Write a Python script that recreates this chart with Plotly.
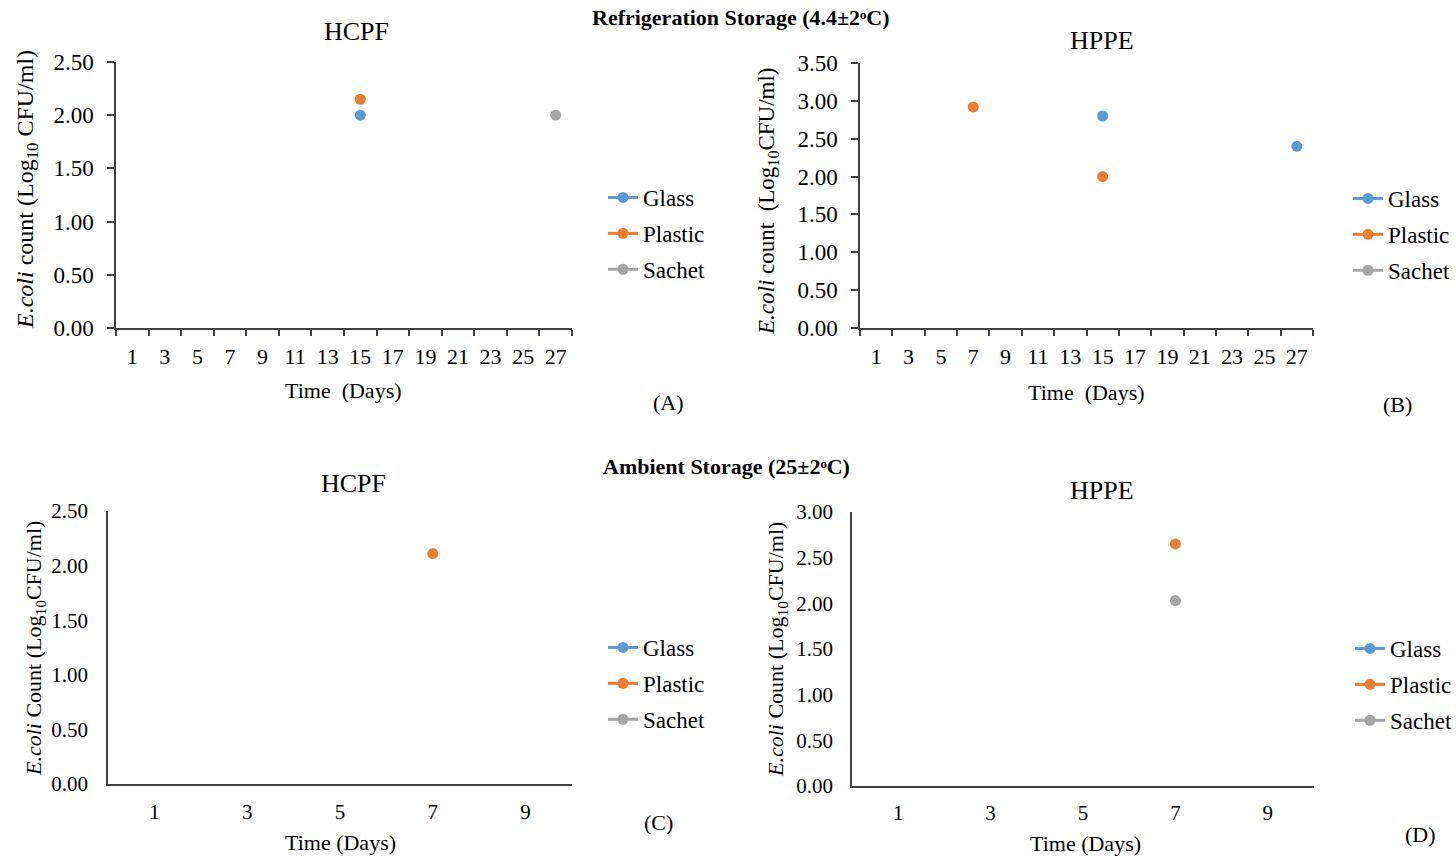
import plotly.graph_objects as go

W, H = 1456, 858

def X(px):
    return px / W

def Y(py):
    return 1 - py / H

# ---------------- data ----------------
series_names = ["Glass", "Plastic", "Sachet"]
colors = ["#5B9BD5", "#ED7D31", "#A5A5A5"]

days_refrig = ["1", "3", "5", "7", "9", "11", "13", "15", "17", "19", "21", "23", "25", "27"]
days_ambient = ["1", "3", "5", "7", "9"]

# Panel A: Refrigeration, HCPF
a_glass = [None, None, None, None, None, None, None, 2.00, None, None, None, None, None, None]
a_plastic = [None, None, None, None, None, None, None, 2.15, None, None, None, None, None, None]
a_sachet = [None, None, None, None, None, None, None, None, None, None, None, None, None, 2.00]

# Panel B: Refrigeration, HPPE
b_glass = [None, None, None, None, None, None, None, 2.80, None, None, None, None, None, 2.40]
b_plastic = [None, None, None, 2.92, None, None, None, 2.00, None, None, None, None, None, None]
b_sachet = [None, None, None, None, None, None, None, None, None, None, None, None, None, None]

# Panel C: Ambient, HCPF
c_glass = [None, None, None, None, None]
c_plastic = [None, None, None, 2.11, None]
c_sachet = [None, None, None, None, None]

# Panel D: Ambient, HPPE
d_glass = [None, None, None, None, None]
d_plastic = [None, None, None, 2.65, None]
d_sachet = [None, None, None, 2.03, None]

FONT = "Liberation Serif"
LINE = "#404040"

fig = go.Figure()

panels = [
    dict(x=days_refrig, ys=[a_glass, a_plastic, a_sachet], xa="x", ya="y", leg="legend"),
    dict(x=days_refrig, ys=[b_glass, b_plastic, b_sachet], xa="x2", ya="y2", leg="legend2"),
    dict(x=days_ambient, ys=[c_glass, c_plastic, c_sachet], xa="x3", ya="y3", leg="legend3"),
    dict(x=days_ambient, ys=[d_glass, d_plastic, d_sachet], xa="x4", ya="y4", leg="legend4"),
]

for p in panels:
    for name, col, ys in zip(series_names, colors, p["ys"]):
        fig.add_trace(go.Scatter(
            x=p["x"], y=ys, name=name, mode="lines+markers",
            line=dict(color=col, width=3), marker=dict(color=col, size=11),
            connectgaps=False, xaxis=p["xa"], yaxis=p["ya"],
            legend=p["leg"], legendgroup=p["leg"] + name,
        ))

# ---------------- axes ----------------
def xaxis(domain, cats, ticks, size, standoff):
    d = dict(domain=domain, type="category", categoryorder="array", categoryarray=cats,
             range=[-0.5, len(cats) - 0.5], showline=True, linecolor=LINE, linewidth=1.5,
             showgrid=False, zeroline=False, tickfont=dict(family=FONT, size=size, color="#000"),
             fixedrange=True, automargin=False, ticklabelstandoff=standoff)
    if ticks:
        d.update(ticks="outside", tickson="boundaries", ticklen=6, tickcolor=LINE, tickwidth=1.5)
    else:
        d.update(ticks="")
    return d

def yaxis(domain, rng, anchor, ticks, size, standoff):
    d = dict(domain=domain, range=rng, dtick=0.5, tick0=0, tickformat=".2f", showline=True,
             linecolor=LINE, linewidth=1.5, showgrid=False, zeroline=False, anchor=anchor,
             tickfont=dict(family=FONT, size=size, color="#000"), fixedrange=True,
             automargin=False, ticklabelstandoff=standoff)
    if ticks:
        d.update(ticks="outside", ticklen=7, tickcolor=LINE, tickwidth=1.5)
    else:
        d.update(ticks="")
    return d

fig.update_layout(
    xaxis=dict(xaxis([X(116), X(572)], days_refrig, True, 22, 8), anchor="y"),
    yaxis=yaxis([Y(328), Y(62)], [0, 2.5], "x", True, 23, 9),
    xaxis2=dict(xaxis([X(860), X(1313)], days_refrig, True, 22, 8), anchor="y2"),
    yaxis2=yaxis([Y(328), Y(63)], [0, 3.5], "x2", True, 23, 9),
    xaxis3=dict(xaxis([X(108), X(572)], days_ambient, False, 21, 8), anchor="y3"),
    yaxis3=yaxis([Y(784), Y(511)], [0, 2.5], "x3", False, 21, 14),
    xaxis4=dict(xaxis([X(852), X(1314)], days_ambient, False, 21, 7), anchor="y4"),
    yaxis4=yaxis([Y(786), Y(512)], [0, 3.0], "x4", False, 21, 13),
)

# ---------------- legends ----------------
def legend(xp, yp):
    return dict(x=X(xp), y=Y(yp), xanchor="left", yanchor="top", bgcolor="rgba(0,0,0,0)",
                font=dict(family=FONT, size=23, color="#000"), tracegroupgap=3,
                traceorder="grouped", itemwidth=30)

fig.update_layout(
    legend=legend(603, 176),
    legend2=legend(1348, 177),
    legend3=legend(603, 626),
    legend4=legend(1350, 627),
)

# ---------------- text ----------------
ann = []

def text(t, xp, yp, size, bold=False, angle=0):
    ann.append(dict(text=("<b>%s</b>" % t) if bold else t, x=X(xp), y=Y(yp), xref="paper",
                    yref="paper", showarrow=False, xanchor="center", yanchor="middle",
                    textangle=angle, font=dict(family=FONT, size=size, color="#000")))

text("Refrigeration Storage (4.4±2ᵒC)", 741, 17, 22, bold=True)
text("Ambient Storage (25±2ᵒC)", 726, 466, 22, bold=True)
text("HCPF", 356, 32, 26)
text("HPPE", 1102, 41, 26)
text("HCPF", 353, 483, 26)
text("HPPE", 1102, 490, 26)
text("Time  (Days)", 343, 390, 22)
text("Time  (Days)", 1086, 392, 22)
text("Time (Days)", 340, 842, 22)
text("Time (Days)", 1085, 843, 22)
text("(A)", 668, 402, 22)
text("(B)", 1397, 404, 22)
text("(C)", 658, 822, 22)
text("(D)", 1420, 834, 22)
text("<i>E.coli</i> count (Log<sub>10</sub> CFU/ml)", 27, 190, 24, angle=-90)
text("<i>E.coli</i> count  (Log<sub>10</sub>CFU/ml)", 768, 201, 23, angle=-90)
text("<i>E.coli</i> Count (Log<sub>10</sub>CFU/ml)", 35, 649, 22, angle=-90)
text("<i>E.coli</i> Count (Log<sub>10</sub>CFU/ml)", 777, 650, 22, angle=-90)

fig.update_layout(
    template="none",
    annotations=ann, width=W, height=H,
    margin=dict(l=0, r=0, t=0, b=0, pad=0, autoexpand=False),
    paper_bgcolor="white", plot_bgcolor="white", showlegend=True,
    font=dict(family=FONT, color="#000"),
)

fig.write_html(
    "out.html",
    config={"displayModeBar": False},
    post_script="document.body.style.margin='0px';document.body.style.overflow='hidden';",
)
